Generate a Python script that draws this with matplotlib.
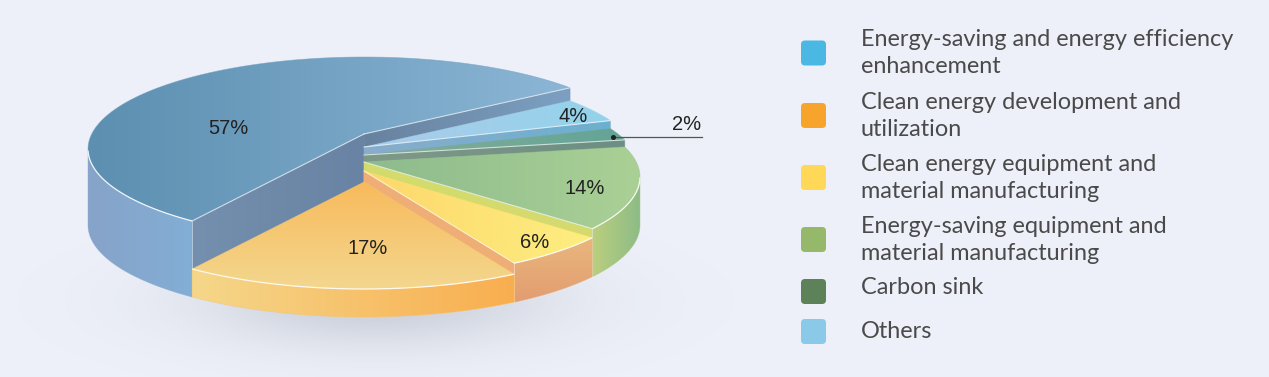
import numpy as np
import matplotlib
matplotlib.use("Agg")
import matplotlib.pyplot as plt
from matplotlib.colors import to_rgb
from matplotlib.patches import Polygon, FancyBboxPatch

# ---- data ----
categories = ["Energy-saving and energy efficiency\nenhancement",
              "Clean energy development and\nutilization",
              "Clean energy equipment and\nmaterial manufacturing",
              "Energy-saving equipment and\nmaterial manufacturing",
              "Carbon sink",
              "Others"]
values = [57, 17, 6, 14, 2, 4]

# ---- layout / style ----
W, H = 1269, 377
BG = "#edf0f8"
CX, CY, RX, RY, APEX = 364, 225, 276, 92, 15
START = 41.7
WARP_A, WARP_B, WARP_C = -10.9, -6.06, 3.58
heights = [76, 28, 39, 48, 55, 63]
swatches = ["#4bb8e3", "#f7a42d", "#ffd858", "#95b86a", "#5d8159", "#8ac9e8"]
# (first colour, second colour, direction)
tops = [("#5c8fb0", "#8cb6d6", "x"), ("#f8ba5c", "#f3d78e", "y"), ("#fdd76c", "#fdee80", "x"),
        ("#8dbb8d", "#aad095", "x"), ("#86ae97", "#63a496", "x"), ("#accbea", "#93d3ea", "x")]
outer = [("#87a3c9", "#82aed5", "x"), ("#f5d78a", "#f9ae4f", "x"), ("#e9b77e", "#e39d70", "y"),
         ("#bccf7e", "#8dbc86", "x"), None, None]
wall_start = [("#67829f", "#7da0c2", "x"), None, ("#f0ae76", "#efae76", "x"),
              ("#d2dc6c", "#d6da70", "x"), ("#7f9987", "#6d8e84", "x"), ("#8aaccb", "#6cb0cf", "x")]
wall_end = [("#7590ae", "#6883a3", "x"), None, None, None, None, None]
label_xy = [(228, 129), (368, 249), (535, 242), (585, 189), (687, 125), (573, 117)]
label_fs = 14.5
legend_y = [53, 115.5, 177.5, 239.5, 291.5, 331.5]
legend_text_y = [53, 116, 178, 240, 288, 331]

plt.rcParams["font.family"] = ["Lato", "DejaVu Sans"]
fig = plt.figure(figsize=(W / 100, H / 100), dpi=100, facecolor=BG)
ax = fig.add_axes([0, 0, 1, 1])
ax.set_axis_off()


def fill_grad(verts, spec, z):
    c0, c1, d = spec
    verts = np.asarray(verts)
    n = 128
    t = np.linspace(0, 1, n)
    t = t[None, :] if d == "x" else t[:, None]
    img = (1 - t)[..., None] * np.array(to_rgb(c0)) + t[..., None] * np.array(to_rgb(c1))
    x0, x1 = verts[:, 0].min(), verts[:, 0].max()
    y0, y1 = verts[:, 1].min(), verts[:, 1].max()
    im = ax.imshow(img, extent=(x0, x1, y1, y0), origin="upper", aspect="auto",
                   interpolation="bilinear", zorder=z)
    clip = Polygon(verts, closed=True, transform=ax.transData, facecolor="none", edgecolor="none")
    ax.add_patch(clip)
    im.set_clip_path(clip)
    # soft anti-aliased rim using the mean colour
    mid = 0.5 * (np.array(to_rgb(c0)) + np.array(to_rgb(c1)))
    ax.add_patch(Polygon(verts, closed=True, facecolor="none", edgecolor=mid, lw=0.5, alpha=0.6, zorder=z))


def warp(phi):
    r = np.radians(phi)
    return START + phi + WARP_A * (1 - np.cos(r)) + WARP_B * np.sin(r) + WARP_C * np.sin(2 * r)


def arc(th, h):
    r = np.radians(th)
    return np.column_stack([CX + RX * np.cos(r), CY - h - RY * np.sin(r)])


# shadow
yy, xx = np.mgrid[0:H, 0:W]
rr = ((xx - 375) / 265.0) ** 2 + ((yy - 300) / 72.0) ** 2
shadow = np.zeros((H, W, 4))
shadow[..., :3] = to_rgb("#7f8798")
shadow[..., 3] = 0.32 * np.exp(-2.4 * rr)
ax.imshow(shadow, extent=(0, W, H, 0), origin="upper", aspect="auto", zorder=1)

# wedges
vals = np.array(values, float)
edges = np.concatenate([[0], np.cumsum(vals) / vals.sum() * 360])
thetas = warp(edges)
order = np.argsort(heights)[::-1]
z = 2
for i in order:
    h = heights[i]
    t0, t1 = thetas[i], thetas[i + 1]
    th = np.linspace(t0, t1, 200)
    apex_top = np.array([CX, CY - h - APEX])
    apex_bot = np.array([CX, CY - APEX])
    for t, spec in ((t0, wall_start[i]), (t1, wall_end[i])):
        if spec is not None:
            p_top = arc(np.array([t]), h)[0]
            p_bot = arc(np.array([t]), 0)[0]
            fill_grad([apex_top, p_top, p_bot, apex_bot], spec, z)
            z += 1
    if outer[i] is not None:
        front = th[np.sin(np.radians(th)) <= 0]
        a_t, a_b = arc(front, h), arc(front, 0)
        fill_grad(np.vstack([a_t, a_b[::-1]]), outer[i], z)
        z += 1
    top = np.vstack([[apex_top], arc(th, h)])
    fill_grad(top, tops[i], z)
    z += 1
    # white highlights
    front = th[np.sin(np.radians(th)) <= 0]
    if len(front):
        a = arc(front, h)
        ax.plot(a[:, 0], a[:, 1], color="white", lw=0.9, alpha=0.9, zorder=z, solid_capstyle="butt")
    for t, spec in ((t0, wall_start[i]), (t1, wall_end[i])):
        if spec is not None:
            p = arc(np.array([t]), h)[0]
            ax.plot([apex_top[0], p[0]], [apex_top[1], p[1]], color="white", lw=0.8, alpha=0.65, zorder=z)
            if np.sin(np.radians(t)) < 0:
                b = arc(np.array([t]), 0)[0]
                ax.plot([p[0], p[0]], [p[1], b[1]], color="white", lw=0.6, alpha=0.5, zorder=z)
    z += 1

z += 5
# labels
for v, (x, y) in zip(values, label_xy):
    ax.text(x, y, f"{v}%", family=["Liberation Sans"], fontsize=label_fs, color="#222222",
            ha="center", va="center", zorder=z)
ax.plot([613, 702], [137, 137], color="#555555", lw=0.9, zorder=z)
ax.plot([613], [137], "o", color="#222222", ms=2.6, zorder=z)

# legend
for lab, c, y, ty in zip(categories, swatches, legend_y, legend_text_y):
    ax.add_patch(FancyBboxPatch((804, y - 9.5), 19, 19, boxstyle="round,pad=3,rounding_size=4",
                                facecolor=c, edgecolor="none", zorder=z))
    ax.text(861, ty, lab, fontsize=16.9, color="#4a4a4a", fontweight="normal", ha="left", va="center",
            linespacing=1.37, zorder=z)

ax.set_xlim(0, W)
ax.set_ylim(H, 0)
fig.savefig("out.png", dpi=100, facecolor=BG)
